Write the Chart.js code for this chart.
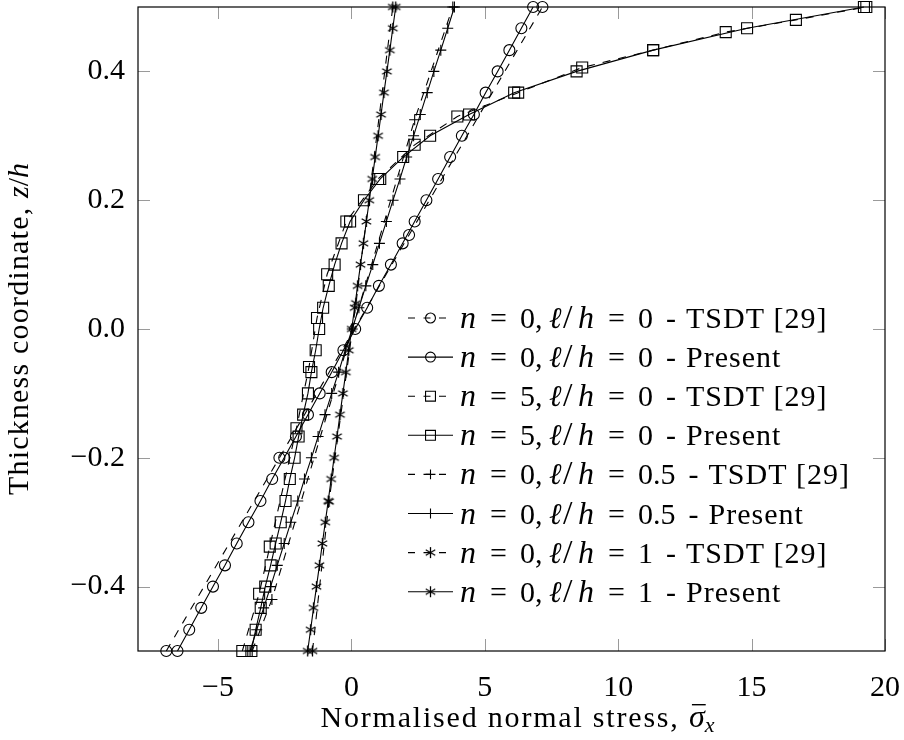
<!DOCTYPE html>
<html>
<head>
<meta charset="utf-8">
<script src="https://cdn.jsdelivr.net/npm/chart.js@4/dist/chart.umd.min.js"></script>
<style>
  html, body { margin: 0; padding: 0; background: #fff; }
  canvas { display: block; }
</style>
</head>
<body>
<canvas id="stress" width="904" height="740"></canvas>
<script>
// thickness positions of the "Present" results (31 layers)
const zGrid = [-0.5, -0.467, -0.433, -0.4, -0.367, -0.333, -0.3, -0.267, -0.233, -0.2, -0.167,
  -0.133, -0.1, -0.067, -0.033, 0, 0.033, 0.067, 0.1, 0.133, 0.167, 0.2, 0.233, 0.267, 0.3,
  0.333, 0.367, 0.4, 0.433, 0.467, 0.5];

// Present results
const presentCircleX = [-6.52, -6.08, -5.63, -5.19, -4.74, -4.30, -3.86, -3.41, -2.97, -2.52, -2.08,
  -1.63, -1.19, -0.74, -0.30, 0.14, 0.59, 1.03, 1.48, 1.92, 2.37, 2.81, 3.25, 3.70, 4.14,
  4.59, 5.03, 5.48, 5.92, 6.37, 6.81];
const presentSquareX = [-3.75, -3.59, -3.40, -3.23, -3.03, -2.84, -2.65, -2.47, -2.31, -2.13, -1.98,
  -1.81, -1.63, -1.50, -1.34, -1.21, -1.06, -0.85, -0.63, -0.37, -0.05, 0.47, 1.08, 1.94, 2.95,
  4.41, 6.10, 8.44, 11.31, 14.83, 19.21];
const presentPlusX = [-3.80, -3.55, -3.29, -3.03, -2.78, -2.52, -2.27, -2.01, -1.76, -1.50, -1.25,
  -0.99, -0.74, -0.48, -0.23, 0.03, 0.28, 0.54, 0.80, 1.05, 1.31, 1.56, 1.82, 2.07, 2.33,
  2.58, 2.84, 3.09, 3.35, 3.61, 3.86];
const presentStarX = [-1.64, -1.53, -1.42, -1.31, -1.20, -1.09, -0.98, -0.87, -0.76, -0.65, -0.54,
  -0.43, -0.32, -0.21, -0.10, 0.01, 0.12, 0.23, 0.34, 0.45, 0.56, 0.67, 0.78, 0.89, 1.00,
  1.11, 1.22, 1.33, 1.44, 1.55, 1.66];

const tsdtCircleZ = [-0.5, -0.2, 0.146, 0.5];
const tsdtCircleX = [-6.94, -2.70, 2.16, 7.16];
const tsdtSquareZ = [-0.5, -0.411, -0.338, -0.154, -0.059, 0.017, 0.085, 0.167, 0.233, 0.286,
  0.33, 0.367, 0.406, 0.433, 0.461, 0.48, 0.5];
const tsdtSquareX = [-4.09, -3.46, -3.06, -2.06, -1.59, -1.29, -0.91, -0.19, 1.00, 2.37,
  3.97, 6.25, 8.65, 11.31, 14.03, 16.66, 19.30];
const tsdtPlusZ = [-0.5, -0.42, 0.325, 0.5];
const tsdtPlusX = [-3.72, -2.98, 2.37, 3.80];
const tsdtStarZ = [-0.5, -0.268, 0.04, 0.5];
const tsdtStarX = [-1.46, -0.84, 0.17, 1.55];

const xTicks = [-5, 0, 5, 10, 15, 20];
const yTicks = [-0.4, -0.2, 0, 0.2, 0.4];

const legendN = ['0', '0', '5', '5', '0', '0', '0', '0'];
const legendL = ['0', '0', '0', '0', '0.5', '0.5', '1', '1'];
const legendSrc = ['TSDT [29]', 'Present', 'TSDT [29]', 'Present', 'TSDT [29]', 'Present', 'TSDT [29]', 'Present'];

const FONT = "'Liberation Serif', 'Times New Roman', serif";
const FS = 30;
const MARK = 5.5;
const LW = 1.1;
const DASH = [8, 8];
const TICK = 12;

// asterisk mark (6 arms), as an image the library can place
function makeAsterisk(r) {
  const c = document.createElement('canvas');
  const s = Math.ceil(r * 2 + 4);
  c.width = s; c.height = s;
  const g = c.getContext('2d');
  g.strokeStyle = '#000';
  g.lineWidth = LW + 0.2;
  g.beginPath();
  [90, 30, 150].forEach(a => {
    const t = a * Math.PI / 180;
    g.moveTo(s / 2 - r * Math.cos(t), s / 2 - r * Math.sin(t));
    g.lineTo(s / 2 + r * Math.cos(t), s / 2 + r * Math.sin(t));
  });
  g.stroke();
  return c;
}
const asterisk = makeAsterisk(MARK);

const pts = (xs, zs) => xs.map((v, i) => ({ x: v, y: zs[i] }));

const markStyles = [
  { pointStyle: 'circle', pointRadius: MARK },
  { pointStyle: 'rect', pointRadius: MARK / Math.SQRT1_2 },
  { pointStyle: 'cross', pointRadius: MARK },
  { pointStyle: asterisk, pointRadius: MARK },
];

function series(data, mark, dashed) {
  return {
    data,
    showLine: true,
    borderColor: '#000',
    borderWidth: LW,
    borderDash: dashed ? DASH : [],
    backgroundColor: 'rgba(0,0,0,0)',
    pointBorderColor: '#000',
    pointBackgroundColor: 'rgba(0,0,0,0)',
    pointBorderWidth: LW,
    pointStyle: mark.pointStyle,
    pointRadius: mark.pointRadius,
    pointHoverRadius: mark.pointRadius,
    clip: false,
  };
}

const datasets = [
  series(pts(tsdtCircleX, tsdtCircleZ), markStyles[0], true),
  series(pts(presentCircleX, zGrid), markStyles[0], false),
  series(pts(tsdtSquareX, tsdtSquareZ), markStyles[1], true),
  series(pts(presentSquareX, zGrid), markStyles[1], false),
  series(pts(tsdtPlusX, tsdtPlusZ), markStyles[2], true),
  series(pts(presentPlusX, zGrid), markStyles[2], false),
  series(pts(tsdtStarX, tsdtStarZ), markStyles[3], true),
  series(pts(presentStarX, zGrid), markStyles[3], false),
];

const minus = s => s.replace('-', '\u2212');

function setFont(ctx, p) {
  ctx.font = (p.i ? 'italic ' : '') + (p.s || FS) + 'px ' + FONT;
  ctx.letterSpacing = p.ls || '0px';
}
// text made of plain / italic pieces; x = fixed offset, g = gap after previous piece
function drawRich(ctx, parts, x0, y) {
  let cx = x0;
  parts.forEach(p => {
    setFont(ctx, p);
    if (p.x !== undefined) cx = x0 + p.x;
    else cx += p.g || 0;
    ctx.fillText(p.t, cx, y + (p.dy || 0));
    cx += ctx.measureText(p.t).width;
  });
  ctx.letterSpacing = '0px';
  return cx;
}
function richWidth(ctx, parts) {
  let w = 0;
  parts.forEach(p => { setFont(ctx, p); w += ctx.measureText(p.t).width + (p.g || 0); });
  ctx.letterSpacing = '0px';
  return w;
}

const decor = {
  id: 'decor',
  beforeDatasetsDraw(chart) {
    const { ctx, chartArea: a, scales: { x, y } } = chart;
    ctx.save();
    ctx.strokeStyle = '#9a9a9a';
    ctx.lineWidth = 1;
    ctx.beginPath();
    xTicks.forEach(v => {
      const px = Math.round(x.getPixelForValue(v)) + 0.5;
      ctx.moveTo(px, a.bottom); ctx.lineTo(px, a.bottom - TICK);
      ctx.moveTo(px, a.top); ctx.lineTo(px, a.top + TICK);
    });
    yTicks.forEach(v => {
      const py = Math.round(y.getPixelForValue(v)) + 0.5;
      ctx.moveTo(a.left, py); ctx.lineTo(a.left + TICK, py);
      ctx.moveTo(a.right, py); ctx.lineTo(a.right - TICK, py);
    });
    ctx.stroke();
    ctx.strokeStyle = '#000';
    ctx.lineWidth = 1.2;
    ctx.strokeRect(a.left, a.top, a.right - a.left, a.bottom - a.top);
    ctx.restore();
  },
  afterDraw(chart) {
    const { ctx, chartArea: a } = chart;
    ctx.save();
    ctx.fillStyle = '#000';
    ctx.textBaseline = 'alphabetic';

    // legend
    const lx = a.left + 270, ly = 318, step = 39.1;
    for (let i = 0; i < 8; i++) {
      const yy = ly + i * step;
      const ds = chart.data.datasets[i];
      ctx.save();
      ctx.strokeStyle = '#000';
      ctx.fillStyle = 'rgba(0,0,0,0)';
      ctx.lineWidth = LW;
      ctx.setLineDash(i % 2 === 0 ? [7, 8.5] : []);
      ctx.beginPath();
      ctx.moveTo(lx, yy); ctx.lineTo(lx + 45, yy);
      ctx.stroke();
      ctx.setLineDash([]);
      if (typeof ds.pointStyle === 'string') {
        Chart.helpers.drawPoint(ctx, {
          pointStyle: ds.pointStyle, radius: ds.pointRadius * 0.9, borderWidth: LW, rotation: 0,
        }, lx + 22.5, yy);
      } else {
        ctx.drawImage(ds.pointStyle, lx + 22.5 - ds.pointStyle.width / 2, yy - ds.pointStyle.height / 2);
      }
      ctx.restore();
      const parts = [
        { t: 'n', i: 1, s: 32, x: 0 }, { t: '=', x: 30 }, { t: legendN[i], x: 60 }, { t: ',' },
        { t: '\u2113', i: 1, x: 89 }, { t: '/', s: 34, x: 103 }, { t: 'h', i: 1, s: 32, x: 118 },
        { t: '=', x: 148 }, { t: legendL[i], x: 178 }, { t: '-', g: 13 },
        { t: legendSrc[i], g: 10, ls: '1px' },
      ];
      drawRich(ctx, parts, lx + 52, yy + 10);
    }

    // x title
    const xParts = [{ t: 'Normalised normal stress, ', ls: '1.8px' }, { t: '\u03c3', i: 1, s: 32 }, { t: 'x', i: 1, s: 22, dy: 5 }];
    const xw = richWidth(ctx, xParts);
    const xs = (a.left + a.right) / 2 + 6 - xw / 2;
    drawRich(ctx, xParts, xs, 727);
    // macron over sigma
    setFont(ctx, xParts[0]);
    const sx = xs + ctx.measureText(xParts[0].t).width;
    ctx.letterSpacing = '0px';
    ctx.font = 'italic 32px ' + FONT;
    const sw = ctx.measureText('\u03c3').width;
    ctx.fillRect(sx + 3, 704, sw - 2, 1.4);

    // y title
    ctx.translate(28, (a.top + a.bottom) / 2);
    ctx.rotate(-Math.PI / 2);
    const yParts = [{ t: 'Thickness coordinate, ', ls: '1.2px' }, { t: 'z', i: 1 }, { t: '/' }, { t: 'h', i: 1 }];
    const yw = richWidth(ctx, yParts);
    drawRich(ctx, yParts, -yw / 2, 0);
    ctx.restore();
  },
};

new Chart(document.getElementById('stress'), {
  type: 'scatter',
  data: { datasets },
  options: {
    responsive: false,
    animation: false,
    devicePixelRatio: 1,
    layout: { autoPadding: false, padding: { top: 7, right: 19, left: 0, bottom: 0 } },
    plugins: { legend: { display: false }, tooltip: { enabled: false } },
    scales: {
      x: {
        type: 'linear',
        min: -8,
        max: 20,
        afterBuildTicks: s => { s.ticks = xTicks.map(v => ({ value: v })); },
        afterFit: s => { s.height = 89; s.paddingLeft = 0; s.paddingRight = 0; },
        grid: { display: false, drawTicks: false },
        border: { display: false },
        ticks: {
          color: '#000',
          padding: 19,
          maxRotation: 0,
          font: { family: FONT, size: FS },
          callback: v => minus(String(v)),
        },
      },
      y: {
        type: 'linear',
        min: -0.5,
        max: 0.5,
        afterBuildTicks: s => { s.ticks = yTicks.map(v => ({ value: v })); },
        afterFit: s => { s.width = 138; s.paddingTop = 0; s.paddingBottom = 0; },
        grid: { display: false, drawTicks: false },
        border: { display: false },
        ticks: {
          color: '#000',
          padding: 13,
          font: { family: FONT, size: FS },
          callback: v => minus(Number(v).toFixed(1)),
        },
      },
    },
  },
  plugins: [decor],
});
</script>
</body>
</html>
